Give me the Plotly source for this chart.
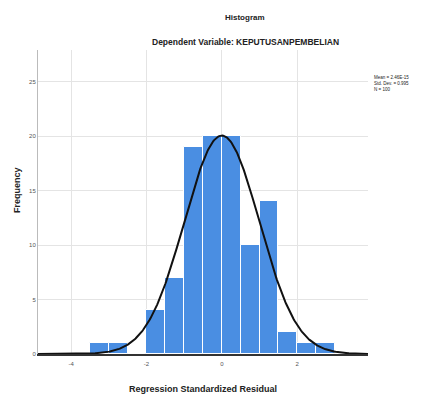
import numpy as np
import plotly.graph_objects as go

bin_left = [-3.5, -3.0, -2.0, -1.5, -1.0, -0.5, 0.0, 0.5, 1.0, 1.5, 2.0, 2.5]
freq = [1, 1, 4, 7, 19, 20, 20, 10, 14, 2, 1, 1]
bin_width = 0.5
mean_val = 0.0
std_val = 0.995
n_val = 100
x_ticks = [-4, -2, 0, 2]
y_ticks = [0, 5, 10, 15, 20, 25]

centers = [b + bin_width / 2 for b in bin_left]
xr = [-4.88, 3.88]
xc = np.linspace(xr[0], xr[1], 400)
yc = n_val * bin_width * np.exp(-0.5 * ((xc - mean_val) / std_val) ** 2) / (std_val * np.sqrt(2 * np.pi))

fig = go.Figure()
fig.add_trace(go.Bar(x=centers, y=freq, width=[bin_width] * len(freq),
                     marker=dict(color='#4a8ee2', line=dict(color='white', width=1)),
                     hoverinfo='skip'))
fig.add_trace(go.Scatter(x=xc, y=yc, mode='lines', line=dict(color='#111111', width=2),
                         hoverinfo='skip'))

# page body has an 8px margin; positions below are window pixels
OFF = 8
L = 38 - OFF
T = 50 - OFF
R = 422 - (368 - OFF)
B = 396 - (354 - OFF)
fnt = "Liberation Sans, Arial, sans-serif"
ann = [
    ("<b>Histogram</b>", 245, 17, 8, 0, 'center'),
    ("<b>Dependent Variable: KEPUTUSANPEMBELIAN</b>", 245, 42, 8.5, 0, 'center'),
    ("Mean = 2.46E-15<br>Std. Dev. = 0.995<br>N = 100", 372, 83, 4.5, 0, 'left'),
    ("<b>Frequency</b>", 17, 190, 9, -90, 'center'),
    ("<b>Regression Standardized Residual</b>", 203, 389, 9, 0, 'center'),
]
pw = 422 - L - R
ph = 396 - T - B
annotations = []
for text, px, py, size, ang, xa in ann:
    fx = px - OFF
    fy = py - OFF
    annotations.append(dict(text=text, x=(fx - L) / pw, y=(396 - fy - B) / ph,
                            xref='paper', yref='paper', showarrow=False,
                            xanchor=xa, yanchor='middle', align='left',
                            textangle=ang, font=dict(size=size)))

fig.update_layout(
    width=422, height=396, showlegend=False,
    paper_bgcolor='white', plot_bgcolor='white',
    margin=dict(l=L, r=R, t=T, b=B),
    bargap=0,
    font=dict(family=fnt, color='#222222'),
    annotations=annotations,
    xaxis=dict(range=xr, tickvals=x_ticks, ticktext=[str(v) for v in x_ticks],
               showgrid=True, gridcolor='#e4e4e4', gridwidth=1, zeroline=False,
               showline=True, linecolor='#333333', linewidth=2,
               ticks='outside', ticklen=3, tickcolor='rgba(0,0,0,0)',
               tickfont=dict(size=6, color='#555555')),
    yaxis=dict(range=[0, 27.9], tickvals=y_ticks, ticktext=[str(v) for v in y_ticks],
               showgrid=True, gridcolor='#e4e4e4', gridwidth=1, zeroline=False,
               showline=True, linecolor='#bbbbbb', linewidth=1,
               ticks='', tickfont=dict(size=6, color='#555555')),
)
fig.write_html("out.html")
